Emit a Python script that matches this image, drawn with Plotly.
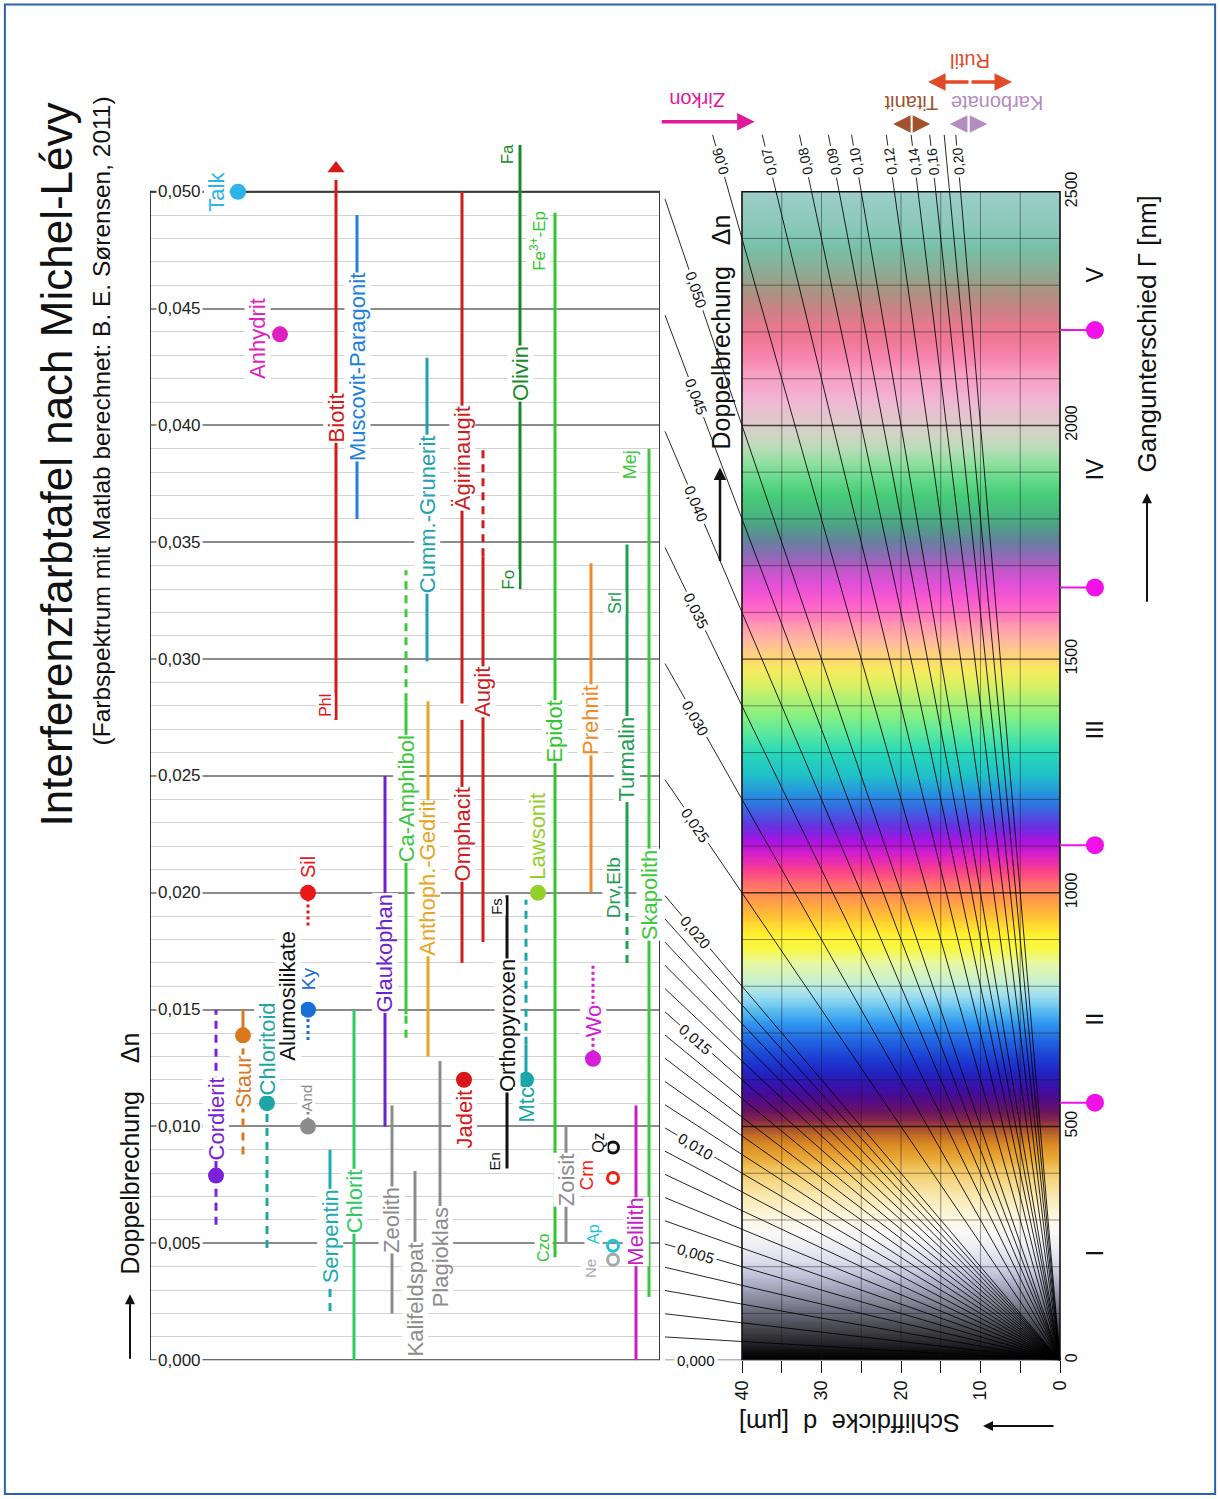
import math
import numpy as np
import plotly.graph_objects as go

W, H = 1220, 1499

# ======================= DATA =======================
# Interference colour spectrum: retardation Gamma (nm) -> colour
spectrum = [
    (0, '#000000'), (20, '#101014'), (40, '#2a2a30'), (70, '#48484f'), (100, '#68687a'),
    (120, '#80808f'), (150, '#a0a0b8'), (180, '#c0c0d8'), (210, '#dcdcec'), (240, '#ececf4'),
    (270, '#f8f8f8'), (300, '#fcf8e4'), (320, '#fbf2d0'), (350, '#f9e8b0'), (380, '#f6d888'),
    (410, '#f0c25a'), (430, '#eaaa38'), (460, '#dc8c22'), (480, '#c06a28'), (495, '#a85030'),
    (510, '#8a2c48'), (530, '#6a1460'), (550, '#580c80'), (570, '#440c98'), (590, '#3414b0'),
    (610, '#2420c0'), (640, '#1c3ad0'), (680, '#2062e0'), (700, '#2a7ce8'), (720, '#3098f0'),
    (750, '#60c0f0'), (780, '#a0e0f0'), (810, '#c8f0d0'), (850, '#e8f8a0'), (880, '#f8f840'),
    (910, '#fff030'), (940, '#ffcc30'), (970, '#ffa840'), (1000, '#ff8858'), (1020, '#ff6a70'),
    (1050, '#f83c90'), (1080, '#d820c8'), (1110, '#a814e0'), (1140, '#6830e0'), (1180, '#3868e0'),
    (1210, '#2890e0'), (1250, '#20c0c8'), (1300, '#28d8b8'), (1340, '#58e8a0'), (1380, '#88f080'),
    (1420, '#b8f070'), (1450, '#e0f060'), (1480, '#f8e860'), (1510, '#ffd080'), (1540, '#ffb8a0'),
    (1570, '#ff98b0'), (1600, '#ff70c4'), (1630, '#f858d0'), (1660, '#e050d8'), (1690, '#c058c8'),
    (1720, '#9068b8'), (1750, '#6880a0'), (1780, '#509c88'), (1810, '#48b880'), (1850, '#48cc78'),
    (1880, '#60d888'), (1920, '#90e0a0'), (1950, '#b8dcb8'), (1980, '#d0d4c4'), (2010, '#e0c8cc'),
    (2050, '#f0b8d4'), (2080, '#f4a8cc'), (2110, '#f8a0c0'), (2140, '#f888b0'), (2180, '#f07898'),
    (2210, '#e87890'), (2240, '#d08088'), (2280, '#b09080'), (2320, '#90a890'), (2380, '#78c0a8'),
    (2420, '#88c8b8'), (2480, '#98ccc4'), (2500, '#a0d0c8'),
]

# birefringence lines of the colour chart
dn_lines = [0.000, 0.001, 0.002, 0.003, 0.004, 0.005, 0.006, 0.007, 0.008, 0.009, 0.010,
            0.011, 0.012, 0.013, 0.014, 0.015, 0.016, 0.017, 0.018, 0.019, 0.020,
            0.025, 0.030, 0.035, 0.040, 0.045, 0.050,
            0.06, 0.07, 0.08, 0.09, 0.10, 0.12, 0.14, 0.16, 0.18, 0.20]
dn_labels_side = [0.000, 0.005, 0.010, 0.015, 0.020, 0.025, 0.030, 0.035, 0.040, 0.045, 0.050]
dn_labels_top = [0.06, 0.07, 0.08, 0.09, 0.10, 0.12, 0.14, 0.16, 0.20]

# interference orders
order_gamma = [551, 1102, 1653, 2204]
order_names = ['I', 'II', 'III', 'IV', 'V']
order_name_gamma = [229, 731, 1350, 1906, 2323]

# axes ticks
gamma_ticks = [0, 500, 1000, 1500, 2000, 2500]
gamma_grid = [100, 200, 300, 400, 500, 600, 700, 800, 900, 1000, 1100, 1200, 1300, 1400,
              1500, 1600, 1700, 1800, 1900, 2000, 2100, 2200, 2300, 2400]
d_ticks = [0, 10, 20, 30, 40]
d_minor = [5, 15, 25, 35]
d_grid = [5, 10, 15, 20, 25, 30, 35]
dn_ticks = [0.000, 0.005, 0.010, 0.015, 0.020, 0.025, 0.030, 0.035, 0.040, 0.045, 0.050]
dn_minor = [i / 1000 for i in range(1, 50) if i % 5]

# high-birefringence minerals above the chart (range of delta n)
top_names = ['Zirkon', 'Titanit', 'Karbonate', 'Rutil']
top_dn_lo = [0.0527, 0.126, 0.191, 0.1648]
top_dn_hi = [0.069, 0.162, 0.289, 0.453]
top_gamma = [2650, 2645, 2645, 2735]
top_double = [False, True, True, True]

# mineral ranges (delta n)
seg_name = ['Cordierit', 'Staurolith', 'Staurolith', 'Chloritoid', 'Andalusit', 'Disthen',
            'Sillimanit', 'Serpentin', 'Serpentin', 'Chlorit', 'Zeolith', 'Kalifeldspat',
            'Plagioklas', 'Glaukophan', 'Ca-Amphibol', 'Ca-Amphibol', 'Ca-Amphibol',
            'Anthophyllit', 'Cummingtonit', 'Omphacit', 'Aegirinaugit', 'Augit', 'Augit',
            'Orthopyroxen', 'Monticellit', 'Monticellit', 'Epidot', 'Olivin', 'Muscovit',
            'Biotit', 'Prehnit', 'Turmalin', 'Turmalin', 'Skapolith', 'Melilith', 'Zoisit',
            'Wollastonit']
seg_lo = [0.0058, 0.0088, 0.0139, 0.0048, 0.0100, 0.0137, 0.0186, 0.0021, 0.0036, 0.0000,
          0.0020, 0.0048, 0.0066, 0.0100, 0.0138, 0.0148, 0.0282, 0.0130, 0.0299, 0.0170,
          0.0281, 0.0179, 0.0344, 0.0082, 0.0120, 0.0135, 0.0044, 0.0330, 0.0360, 0.0274,
          0.0200, 0.0170, 0.0197, 0.0027, 0.0000, 0.0050, 0.0129]
seg_hi = [0.0150, 0.0139, 0.0150, 0.0155, 0.0107, 0.0150, 0.0200, 0.0036, 0.0090, 0.0150,
          0.0109, 0.0081, 0.0128, 0.0250, 0.0148, 0.0282, 0.0338, 0.0282, 0.0429, 0.0274,
          0.0500, 0.0344, 0.0392, 0.0199, 0.0135, 0.0197, 0.0491, 0.0520, 0.0490, 0.0505,
          0.0341, 0.0197, 0.0349, 0.0390, 0.0109, 0.0100, 0.0169]
seg_certain = ['dash', 'dash', 'solid', 'dash', 'dot', 'dot', 'dot', 'dash', 'solid', 'solid',
               'solid', 'solid', 'solid', 'solid', 'dash', 'solid', 'dash', 'solid', 'solid',
               'solid', 'solid', 'solid', 'dash', 'solid', 'solid', 'dash', 'solid', 'solid',
               'solid', 'solid', 'solid', 'dash', 'solid', 'solid', 'solid', 'solid', 'dot']

# single-value minerals (delta n)
pt_name = ['Talk', 'Anhydrit', 'Cordierit', 'Staurolith', 'Chloritoid', 'Andalusit', 'Disthen',
           'Sillimanit', 'Jadeit', 'Monticellit', 'Lawsonit', 'Wollastonit',
           'Nephelin', 'Apatit', 'Korund', 'Quarz']
pt_dn = [0.0500, 0.0439, 0.0079, 0.0139, 0.0110, 0.0100, 0.0150, 0.0200, 0.0120, 0.0120,
         0.0200, 0.0129, 0.0043, 0.0049, 0.0078, 0.0091]
pt_ring = [False] * 12 + [True] * 4

# label texts
lbl_text = ['Talk', 'Anhydrit', 'Cordierit', 'Staur', 'Chloritoid', 'Alumosilikate', 'And', 'Ky',
            'Sil', 'Serpentin', 'Chlorit', 'Zeolith', 'Kalifeldspat', 'Plagioklas', 'Glaukophan',
            'Ca-Amphibol', 'Anthoph.-Gedrit', 'Cumm.-Grunerit', 'Jadeit', 'Omphacit',
            'Ägirinaugit', 'Augit', 'Orthopyroxen', 'En', 'Fs', 'Mtc', 'Lawsonit', 'Czo',
            'Epidot', 'Fe<sup>3+</sup>-Ep', 'Olivin', 'Fo', 'Fa', 'Muscovit-Paragonit', 'Biotit',
            'Phl', 'Prehnit', 'Srl', 'Turmalin', 'Drv,Elb', 'Skapolith', 'Mej', 'Melilith',
            'Zoisit', 'Wo', 'Ne', 'Ap', 'Crn', 'Qz']
lbl_mineral = ['Talk', 'Anhydrit', 'Cordierit', 'Staurolith', 'Chloritoid', 'Alumosilikate',
               'Andalusit', 'Disthen', 'Sillimanit', 'Serpentin', 'Chlorit', 'Zeolith',
               'Kalifeldspat', 'Plagioklas', 'Glaukophan', 'Ca-Amphibol', 'Anthophyllit',
               'Cummingtonit', 'Jadeit', 'Omphacit', 'Aegirinaugit', 'Augit', 'Orthopyroxen',
               'Orthopyroxen', 'Orthopyroxen', 'Monticellit', 'Lawsonit', 'Epidot', 'Epidot',
               'Epidot', 'Olivin', 'Olivin', 'Olivin', 'Muscovit', 'Biotit', 'Biotit', 'Prehnit',
               'Turmalin', 'Turmalin', 'Turmalin', 'Skapolith', 'Skapolith', 'Melilith', 'Zoisit',
               'Wollastonit', 'Nephelin', 'Apatit', 'Korund', 'Quarz']
lbl_dn = [0.0500, 0.0437, 0.0103, 0.0119, 0.0133, 0.0156, 0.0112, 0.0163, 0.0211, 0.0053,
          0.0068, 0.0060, 0.0026, 0.0044, 0.0174, 0.0240, 0.0206, 0.0362, 0.0103, 0.0225,
          0.0386, 0.0286, 0.0143, 0.0085, 0.0194, 0.0109, 0.0224, 0.0048, 0.0269, 0.0479,
          0.0422, 0.0334, 0.0516, 0.0425, 0.0403, 0.0280, 0.0274, 0.0324, 0.0257, 0.0202,
          0.0199, 0.0383, 0.0055, 0.0077, 0.0145, 0.0039, 0.0054, 0.0079, 0.0093]

# ======================= STYLE / LAYOUT =======================
COL = {
    'Talk': '#2db4e6', 'Anhydrit': '#e01fc0', 'Cordierit': '#7a22d8', 'Staurolith': '#d9781e',
    'Chloritoid': '#1ea6a6', 'Alumosilikate': '#111111', 'Andalusit': '#8c8c8c',
    'Disthen': '#1a6fd6', 'Sillimanit': '#e81818', 'Serpentin': '#1eaab0', 'Chlorit': '#30c864',
    'Zeolith': '#8c8c8c', 'Kalifeldspat': '#8c8c8c', 'Plagioklas': '#8c8c8c',
    'Glaukophan': '#7020d0', 'Ca-Amphibol': '#3cc83c', 'Anthophyllit': '#e8a61e',
    'Cummingtonit': '#1ea2b0', 'Jadeit': '#d81818', 'Omphacit': '#d01c1c',
    'Aegirinaugit': '#d01c1c', 'Augit': '#d01c1c', 'Orthopyroxen': '#111111',
    'Monticellit': '#18a6a6', 'Lawsonit': '#94cf2c', 'Epidot': '#2ec82e', 'Olivin': '#1a8a2a',
    'Muscovit': '#2080e0', 'Biotit': '#d81818', 'Prehnit': '#f08a28', 'Turmalin': '#1e9e50',
    'Skapolith': '#3cc83c', 'Melilith': '#c81ec8', 'Zoisit': '#8c8c8c', 'Wollastonit': '#d41ed8',
    'Nephelin': '#a8a8a8', 'Apatit': '#1ec2da', 'Korund': '#f02010', 'Quarz': '#111111',
}
# column (horizontal slot) of each mineral in the left panel, in panel pixels
COLUMN = {
    'Talk': 238, 'Anhydrit': 280, 'Cordierit': 216, 'Staurolith': 243, 'Chloritoid': 267,
    'Alumosilikate': 288, 'Andalusit': 308, 'Disthen': 308, 'Sillimanit': 308, 'Serpentin': 330,
    'Chlorit': 354, 'Zeolith': 392, 'Kalifeldspat': 415, 'Plagioklas': 440, 'Glaukophan': 385,
    'Ca-Amphibol': 406, 'Anthophyllit': 428, 'Cummingtonit': 427, 'Jadeit': 464,
    'Omphacit': 462, 'Aegirinaugit': 462, 'Augit': 483, 'Orthopyroxen': 507, 'Monticellit': 526,
    'Lawsonit': 538, 'Epidot': 555, 'Olivin': 520, 'Muscovit': 357, 'Biotit': 336,
    'Prehnit': 591, 'Turmalin': 627, 'Skapolith': 649, 'Melilith': 636, 'Zoisit': 566,
    'Wollastonit': 593, 'Nephelin': 613, 'Apatit': 613, 'Korund': 613, 'Quarz': 613,
}
# label column offsets from the mineral column (pixels)
LBL_DX = {'Talk': -21, 'Anhydrit': -22, 'And': -2, 'En': -12, 'Fs': -10, 'Czo': -12,
          'Fe<sup>3+</sup>-Ep': -17, 'Fo': -11, 'Fa': -13, 'Phl': -10, 'Srl': -12, 'Drv,Elb': -14,
          'Mej': -19, 'Ne': -23, 'Ap': -19, 'Crn': -26, 'Qz': -14}
LBL_SIZE = {'And': 15, 'En': 15, 'Fs': 15, 'Czo': 16, 'Fe<sup>3+</sup>-Ep': 17, 'Fo': 17,
            'Fa': 17, 'Phl': 16, 'Srl': 18, 'Drv,Elb': 19, 'Mej': 18, 'Ne': 15, 'Ap': 16,
            'Crn': 19, 'Qz': 16, 'Ky': 19, 'Sil': 20}
DASH = {'solid': 'solid', 'dash': '8px,6px', 'dot': '3px,3px'}

PX_L0, PX_L1 = 150, 660
PX_R0, PX_R1 = 660, 1110
PY_TOP, PY_BOT = 40, 1362
PX_D0 = 1060
PX_PER_UM = 318 / 40
PX_PER_NM = 1170 / 2500
D_LIM = 40
G_LIM = 2500
d_range = [(PX_D0 - PX_R0) / PX_PER_UM, (PX_D0 - PX_R1) / PX_PER_UM]
g_max = (PY_BOT - PY_TOP) / PX_PER_NM
dn_max = g_max / 50000.0
ydom = [1 - PY_BOT / H, 1 - PY_TOP / H]
D_LINE_END = (PX_D0 - 665) / PX_PER_UM
G_LINE_END = (PY_BOT - 135) / PX_PER_NM
G_TOPLABEL = (PY_BOT - 162) / PX_PER_NM
D_SIDELABEL = 45.8


def px(x):
    return x / W


def py(y):
    return 1 - y / H


fig = go.Figure()

# ---------------- colour chart ----------------
spec_g = [s[0] for s in spectrum]
spec_c = [s[1] for s in spectrum]
cs = [[g / G_LIM, c] for g, c in zip(spec_g, spec_c)]
g_edges = np.linspace(0, G_LIM, 626)
g_centers = (g_edges[:-1] + g_edges[1:]) / 2
fig.add_trace(go.Heatmap(x=[0, D_LIM], y=g_edges, z=g_centers[:, None], colorscale=cs,
                         zmin=0, zmax=G_LIM, showscale=False, hoverinfo='skip',
                         xaxis='x2', yaxis='y2'))

# grid of the colour chart
gx, gy = [], []
for d in d_grid:
    gx += [d, d, None]
    gy += [0, G_LIM, None]
for g in gamma_grid:
    if g % 500:
        gx += [0, D_LIM, None]
        gy += [g, g, None]
fig.add_trace(go.Scatter(x=gx, y=gy, mode='lines', line=dict(color='rgba(20,20,20,0.45)', width=1),
                         hoverinfo='skip', xaxis='x2', yaxis='y2'))
gx, gy = [], []
for g in gamma_grid:
    if g % 500 == 0:
        gx += [0, D_LIM, None]
        gy += [g, g, None]
fig.add_trace(go.Scatter(x=gx, y=gy, mode='lines', line=dict(color='rgba(0,0,0,0.7)', width=1.4),
                         hoverinfo='skip', xaxis='x2', yaxis='y2'))

# birefringence lines
lx, ly = [], []
for dn in dn_lines:
    if dn <= 0.050:
        d_end = D_LINE_END
    else:
        d_end = G_LINE_END / (1000 * dn)
    lx += [0, d_end, None]
    ly += [0, d_end * dn * 1000, None]
fig.add_trace(go.Scatter(x=lx, y=ly, mode='lines', line=dict(color='rgba(0,0,0,0.85)', width=1),
                         hoverinfo='skip', xaxis='x2', yaxis='y2'))

# frame of the colour chart
fig.add_trace(go.Scatter(x=[0, D_LIM, D_LIM, 0, 0], y=[0, 0, G_LIM, G_LIM, 0], mode='lines',
                         line=dict(color='#111', width=1.6), hoverinfo='skip',
                         xaxis='x2', yaxis='y2'))

# order markers
ox, oy = [], []
for g in order_gamma:
    ox += [0, -4.4, None]
    oy += [g, g, None]
fig.add_trace(go.Scatter(x=ox, y=oy, mode='lines', line=dict(color='#f010e8', width=2),
                         hoverinfo='skip', xaxis='x2', yaxis='y2', cliponaxis=False))
fig.add_trace(go.Scatter(x=[-4.4] * len(order_gamma), y=order_gamma, mode='markers',
                         marker=dict(color='#f010e8', size=18), hoverinfo='skip',
                         xaxis='x2', yaxis='y2', cliponaxis=False))

# ---------------- mineral panel ----------------
fig.add_trace(go.Scatter(x=[PX_L0, PX_L0, PX_L1, PX_L1, PX_L0], y=[0, 0.05, 0.05, 0, 0],
                         mode='lines', line=dict(color='#3a3a3a', width=2), hoverinfo='skip',
                         xaxis='x', yaxis='y'))

for name, lo, hi, kind in zip(seg_name, seg_lo, seg_hi, seg_certain):
    c = COLUMN[name]
    fig.add_trace(go.Scatter(x=[c, c], y=[lo, hi], mode='lines',
                             line=dict(color=COL[name], width=3, dash=DASH[kind]),
                             hoverinfo='skip', xaxis='x', yaxis='y', cliponaxis=False))
# Biotit arrow head
fig.add_trace(go.Scatter(x=[COLUMN['Biotit']], y=[0.0510], mode='markers',
                         marker=dict(symbol='triangle-up', size=15, color=COL['Biotit']),
                         hoverinfo='skip', xaxis='x', yaxis='y', cliponaxis=False))

for name, dn, ring in zip(pt_name, pt_dn, pt_ring):
    if ring:
        mk = dict(symbol='circle-open', size=11, color=COL[name], line=dict(width=3, color=COL[name]))
    else:
        mk = dict(symbol='circle', size=16, color=COL[name])
    fig.add_trace(go.Scatter(x=[COLUMN[name]], y=[dn], mode='markers', marker=mk,
                             hoverinfo='skip', xaxis='x', yaxis='y', cliponaxis=False))

ann = []
FONT = 'Liberation Sans, Arial, Helvetica, sans-serif'
C = dict(xanchor='center', yanchor='middle')

for t, m, dn in zip(lbl_text, lbl_mineral, lbl_dn):
    ann.append(dict(x=COLUMN[m] + LBL_DX.get(t, 0), y=dn, xref='x', yref='y', text=t,
                    showarrow=False, textangle=-90,
                    font=dict(size=LBL_SIZE.get(t, 22), color=COL[m], family=FONT),
                    bgcolor='white', borderpad=0, **C))

# delta n tick labels inside the mineral panel
for v in dn_ticks:
    ann.append(dict(x=179, y=v, xref='x', yref='y', text=f'{v:.3f}'.replace('.', ','),
                    showarrow=False, font=dict(size=17, color='#222'), bgcolor='white',
                    borderpad=1, **C))

# labels of birefringence lines (left side)
for dn in dn_labels_side:
    ang = math.degrees(math.atan2(dn * 1000 * PX_PER_NM, PX_PER_UM))
    ann.append(dict(x=D_SIDELABEL, y=D_SIDELABEL * dn * 1000, xref='x2', yref='y2',
                    text=f'{dn:.3f}'.replace('.', ','), showarrow=False, textangle=ang,
                    font=dict(size=15, color='#111'), bgcolor='white', borderpad=2, **C))
# labels of birefringence lines (top)
for dn in dn_labels_top:
    ang = math.degrees(math.atan2(-dn * 1000 * PX_PER_NM, -PX_PER_UM))
    ann.append(dict(x=G_TOPLABEL / (1000 * dn), y=G_TOPLABEL, xref='x2', yref='y2',
                    text=f'{dn:.2f}'.replace('.', ','), showarrow=False, textangle=ang,
                    font=dict(size=14, color='#111'), bgcolor='white', borderpad=2, **C))

# order numbers
for g in order_gamma:
    ann.append(dict(x=-7.4, y=g, xref='x2', yref='y2', text=str(g), showarrow=False,
                    textangle=-90, font=dict(size=13, color='#111'), **C))
for n, g in zip(order_names, order_name_gamma):
    ann.append(dict(x=-4.4, y=g, xref='x2', yref='y2', text=n, showarrow=False,
                    textangle=-90, font=dict(size=23, color='#111'), **C))

# high birefringence minerals with arrows
TOPCOL = {'Zirkon': '#e0189a', 'Titanit': '#a0522d', 'Karbonate': '#b48cc0', 'Rutil': '#e04a28'}
TOP_LBL_DX = {'Zirkon': -11, 'Titanit': 0, 'Karbonate': 29, 'Rutil': 0}
for name, lo, hi, g, dbl in zip(top_names, top_dn_lo, top_dn_hi, top_gamma, top_double):
    d_lo = g / (1000 * lo)
    d_hi = g / (1000 * hi)
    col = TOPCOL[name]
    mid = (d_lo + d_hi) / 2
    if dbl:
        for end in (d_lo, d_hi):
            ann.append(dict(x=end, y=g, ax=mid, ay=g, xref='x2', yref='y2', axref='x2', ayref='y2',
                            text='', showarrow=True, arrowhead=2, arrowsize=1, arrowwidth=3.5,
                            arrowcolor=col, standoff=0))
    else:
        ann.append(dict(x=d_hi, y=g, ax=d_lo, ay=g, xref='x2', yref='y2', axref='x2', ayref='y2',
                        text='', showarrow=True, arrowhead=2, arrowsize=1, arrowwidth=3.5,
                        arrowcolor=col, standoff=0))
    ann.append(dict(x=mid, y=g, xref='x2', yref='y2', text=name, showarrow=False, textangle=180,
                    xshift=TOP_LBL_DX[name], yshift=21, font=dict(size=20, color=col), **C))

# titles and axis titles
ann.append(dict(x=px(56), y=py(465), xref='paper', yref='paper', showarrow=False, textangle=-90,
                text='Interferenzfarbtafel nach Michel-Lévy', font=dict(size=44, color='#111'), **C))
ann.append(dict(x=px(101), y=py(422), xref='paper', yref='paper', showarrow=False, textangle=-90,
                text='(Farbspektrum mit Matlab berechnet: B. E. Sørensen, 2011)',
                font=dict(size=24.5, color='#111'), **C))
ann.append(dict(x=px(130), y=py(1155), xref='paper', yref='paper', showarrow=False, textangle=-90,
                text='Doppelbrechung    Δn', font=dict(size=25, color='#111'), **C))
ann.append(dict(x=px(130), y=py(1296), xref='paper', yref='paper', ax=0, ay=66, text='',
                showarrow=True, arrowhead=2, arrowsize=1, arrowwidth=2, arrowcolor='#111'))
ann.append(dict(x=px(721), y=py(333), xref='paper', yref='paper', showarrow=False, textangle=-90,
                text='Doppelbrechung   Δn', font=dict(size=25, color='#111'), **C))
ann.append(dict(x=px(720), y=py(468), xref='paper', yref='paper', ax=0, ay=95, text='',
                showarrow=True, arrowhead=2, arrowsize=1, arrowwidth=2.5, arrowcolor='#111'))
ann.append(dict(x=px(1147), y=py(335), xref='paper', yref='paper', showarrow=False, textangle=-90,
                text='Gangunterschied Γ [nm]', font=dict(size=26, color='#111'), **C))
ann.append(dict(x=px(1147), y=py(494), xref='paper', yref='paper', ax=0, ay=110, text='',
                showarrow=True, arrowhead=2, arrowsize=1, arrowwidth=2, arrowcolor='#111'))
ann.append(dict(x=px(850), y=py(1425), xref='paper', yref='paper', showarrow=False, textangle=180,
                text='Schliffdicke  d  [µm]', font=dict(size=25.5, color='#111'), **C))
ann.append(dict(x=px(983), y=py(1428), xref='paper', yref='paper', ax=72, ay=0, text='',
                showarrow=True, arrowhead=2, arrowsize=1, arrowwidth=2, arrowcolor='#111'))

fig.update_layout(
    width=W, height=H, margin=dict(l=0, r=0, t=0, b=0),
    paper_bgcolor='white', plot_bgcolor='white', showlegend=False,
    font=dict(family=FONT, color='#111'),
    xaxis=dict(domain=[px(PX_L0), px(PX_L1)], range=[PX_L0, PX_L1], visible=False, anchor='y'),
    yaxis=dict(domain=ydom, range=[0, dn_max], anchor='x', tickmode='array', tickvals=dn_ticks,
               showticklabels=False, ticks='', showline=False, zeroline=False,
               showgrid=True, gridcolor='#8c8c8c', gridwidth=1.5,
               minor=dict(tickvals=dn_minor, showgrid=True, gridcolor='#d2d2d2', gridwidth=1)),
    xaxis2=dict(domain=[px(PX_R0), px(PX_R1)], range=d_range, anchor='y2', tickmode='array',
                tickvals=d_ticks, ticks='outside', ticklen=12,
                tickwidth=1, tickcolor='#111', tickangle=-90, tickfont=dict(size=18),
                minor=dict(tickvals=d_minor, ticks='outside', ticklen=12, tickwidth=1,
                           tickcolor='#111', showgrid=False),
                showgrid=False, zeroline=False, showline=False),
    yaxis2=dict(domain=ydom, range=[0, g_max], anchor='free', position=px(PX_D0), side='right',
                tickmode='array', tickvals=gamma_ticks, tickangle=-90, tickfont=dict(size=16),
                ticks='', showgrid=False, zeroline=False, showline=False),
    annotations=ann,
    shapes=[dict(type='rect', xref='paper', yref='paper', x0=0.004, x1=0.996, y0=0.002, y1=0.997,
                 line=dict(color='#2a62b0', width=2))],
)

fig.write_html('out.html', config={'displayModeBar': False},
               post_script="document.body.style.margin='0';document.body.style.overflow='hidden';")
